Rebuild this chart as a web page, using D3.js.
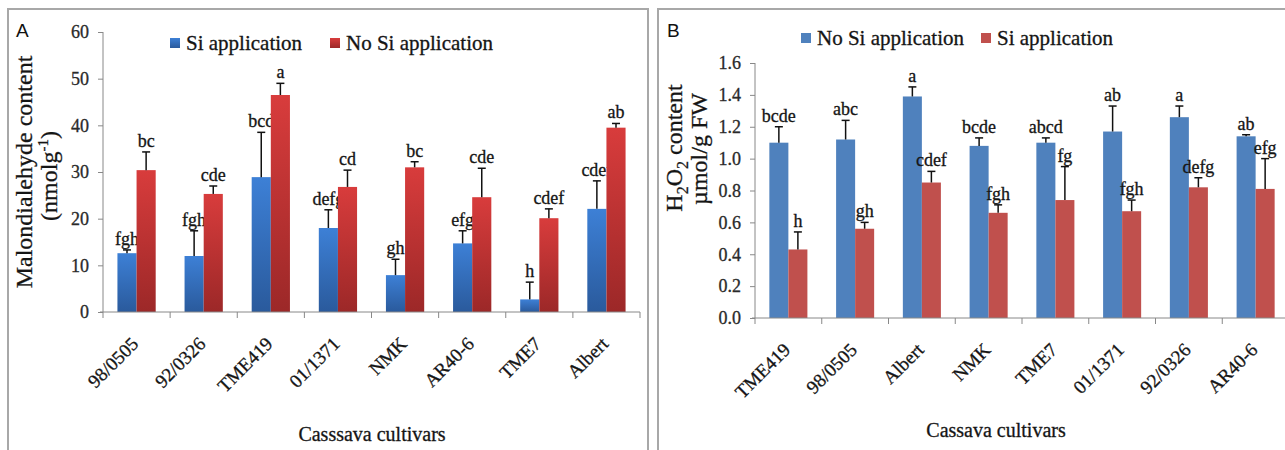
<!DOCTYPE html>
<html>
<head>
<meta charset="utf-8">
<script src="https://cdn.jsdelivr.net/npm/d3@7"></script>
<style>
  body { margin: 0; background: #fff; }
</style>
</head>
<body>
<svg width="1285" height="450"></svg>
<script>
// panel A - malondialdehyde
var cultivarsA = ["98/0505", "92/0326", "TME419", "01/1371", "NMK", "AR40-6", "TME7", "Albert"];
var siA = [12.6, 12.0, 28.9, 18.0, 7.9, 14.7, 2.7, 22.1];
var siAErr = [0.7, 5.4, 9.6, 3.9, 3.4, 2.7, 3.7, 6.0];
var siALetters = ["fgh", "fgh", "bcd", "defg", "gh", "efg", "h", "cdef"];
var noSiA = [30.4, 25.3, 46.5, 26.8, 31.0, 24.6, 20.1, 39.5];
var noSiAErr = [3.9, 1.7, 2.5, 3.6, 1.2, 6.2, 2.0, 0.9];
var noSiALetters = ["bc", "cde", "a", "cd", "bc", "cde", "cdef", "ab"];
var ticksA = [0, 10, 20, 30, 40, 50, 60];

// panel B - H2O2
var cultivarsB = ["TME419", "98/0505", "Albert", "NMK", "TME7", "01/1371", "92/0326", "AR40-6"];
var noSiB = [1.10, 1.12, 1.39, 1.08, 1.10, 1.17, 1.26, 1.14];
var noSiBErr = [0.10, 0.12, 0.06, 0.05, 0.03, 0.16, 0.07, 0.01];
var noSiBLetters = ["bcde", "abc", "a", "bcde", "abcd", "ab", "a", "ab"];
var siB = [0.43, 0.56, 0.85, 0.66, 0.74, 0.67, 0.82, 0.81];
var siBErr = [0.11, 0.04, 0.07, 0.05, 0.21, 0.07, 0.06, 0.19];
var siBLetters = ["h", "gh", "cdef", "fgh", "fg", "fgh", "defg", "efg"];
var ticksB = [0, 0.2, 0.4, 0.6, 0.8, 1, 1.2, 1.4, 1.6];

var SERIF = "'Liberation Serif', 'DejaVu Serif', serif";
var svg = d3.select("svg");

// gradients for panel A bars
var defs = svg.append("defs");
function grad(id, top, bottom) {
    var g = defs.append("linearGradient").attr("id", id)
        .attr("x1", 0).attr("y1", 0).attr("x2", 0).attr("y2", 1);
    g.append("stop").attr("offset", "0%").attr("stop-color", top);
    g.append("stop").attr("offset", "100%").attr("stop-color", bottom);
}
grad("gBlue", "#3d80d6", "#2a5a9c");
grad("gRed", "#d83c3c", "#9c2828");

// frames
svg.append("rect").attr("x", 8).attr("y", 9).attr("width", 640).attr("height", 470)
    .attr("fill", "none").attr("stroke", "#a8a8a8").attr("stroke-width", 2);
svg.append("rect").attr("x", 658).attr("y", 9).attr("width", 700).attr("height", 470)
    .attr("fill", "none").attr("stroke", "#a8a8a8").attr("stroke-width", 2);

// serif text, a touch heavier like the scanned figure
function txt(sel, size) {
    return sel.append("text").style("font-family", SERIF)
        .attr("font-size", size).attr("fill", "#151515")
        .attr("stroke", "#151515").attr("stroke-width", 0.3);
}

function drawPanel(p) {
    var g = svg.append("g");

    var x0 = d3.scaleBand().domain(p.cats).range([p.left, p.right])
        .paddingInner(0.43).paddingOuter(0.215);
    var x1 = d3.scaleBand().domain([0, 1]).range([0, x0.bandwidth()]);
    var step = x0.step();
    var y = d3.scaleLinear().domain([0, p.max]).range([p.bottom, p.top]);

    // y axis
    var ya = g.append("g")
        .attr("transform", "translate(" + p.left + ",0)")
        .call(d3.axisLeft(y).tickValues(p.ticks).tickSize(5).tickPadding(9));
    ya.select(".domain").attr("stroke", "#888").attr("d", "M0," + y(p.max) + "V" + p.bottom);
    ya.selectAll(".tick line").attr("stroke", "#888");
    ya.selectAll(".tick text").style("font-family", SERIF).attr("font-size", 18)
        .attr("fill", "#2a2a2a").attr("stroke", "#2a2a2a").attr("stroke-width", 0.3);

    // bars
    p.series.forEach(function(s, si) {
        var grp = g.append("g");
        p.cats.forEach(function(c, i) {
            var bx = x0(c) + x1(si);
            var v = s.values[i], e = v + s.err[i];
            grp.append("rect")
                .attr("x", bx).attr("y", y(v))
                .attr("width", x1.bandwidth()).attr("height", p.bottom - y(v))
                .attr("fill", s.fill);
            var cx = bx + x1.bandwidth() / 2;
            grp.append("line").attr("x1", cx).attr("x2", cx)
                .attr("y1", y(v)).attr("y2", y(e))
                .attr("stroke", "#111").attr("stroke-width", 1.5);
            grp.append("line").attr("x1", cx - 4).attr("x2", cx + 4)
                .attr("y1", y(e)).attr("y2", y(e))
                .attr("stroke", "#111").attr("stroke-width", 1.5);
            txt(grp, 18).attr("x", cx).attr("y", y(e) - 5)
                .attr("text-anchor", "middle")
                .text(s.letters[i]);
        });
    });

    // x axis
    g.append("line").attr("x1", p.left - 3).attr("x2", p.right)
        .attr("y1", p.bottom).attr("y2", p.bottom).attr("stroke", "#888");
    d3.range(p.cats.length + 1).forEach(function(i) {
        var tx = p.left + i * step;
        g.append("line").attr("x1", tx).attr("x2", tx)
            .attr("y1", p.bottom).attr("y2", p.bottom + 6).attr("stroke", "#888");
    });
    p.cats.forEach(function(c) {
        var cx = x0(c) + x0.bandwidth() / 2 + 3;
        txt(g, 19)
            .attr("transform", "translate(" + cx + "," + (p.bottom + 33) + ") rotate(-45)")
            .attr("text-anchor", "end")
            .text(c);
    });

    // x title
    txt(g, 20).attr("x", p.xTitleX).attr("y", p.xTitleY)
        .attr("text-anchor", "middle")
        .text(p.xTitle);

    // legend
    p.series.forEach(function(s, si) {
        var lx = p.legendX[si];
        g.append("rect").attr("x", lx).attr("y", p.legendY - 12)
            .attr("width", 10).attr("height", 10).attr("fill", s.fill);
        txt(g, 21).attr("x", lx + 16).attr("y", p.legendY).text(s.name);
    });

    // panel letter
    g.append("text").attr("x", p.letterX).attr("y", 37)
        .style("font-family", "'Liberation Sans', Arial, sans-serif")
        .attr("font-size", 19).attr("fill", "#111")
        .text(p.letter);

    return g;
}

var gA = drawPanel({
    cats: cultivarsA, left: 103, right: 640, top: 32, bottom: 312, max: 60, ticks: ticksA,
    series: [
        {name: "Si application", values: siA, err: siAErr, letters: siALetters, fill: "url(#gBlue)"},
        {name: "No Si application", values: noSiA, err: noSiAErr, letters: noSiALetters, fill: "url(#gRed)"}
    ],
    legendX: [170, 330], legendY: 50,
    xTitle: "Casssava cultivars", xTitleX: 372, xTitleY: 441,
    letter: "A", letterX: 16
});

var gB = drawPanel({
    cats: cultivarsB, left: 755, right: 1289, top: 63, bottom: 318, max: 1.6, ticks: ticksB,
    series: [
        {name: "No Si application", values: noSiB, err: noSiBErr, letters: noSiBLetters, fill: "#4f81bd"},
        {name: "Si application", values: siB, err: siBErr, letters: siBLetters, fill: "#c0504d"}
    ],
    legendX: [801, 981], legendY: 45,
    xTitle: "Cassava cultivars", xTitleX: 996, xTitleY: 437,
    letter: "B", letterX: 667
});

// y titles
txt(gA, 24).attr("transform", "translate(32,172) rotate(-90)")
    .attr("text-anchor", "middle")
    .text("Malondialehyde content");
var tA2 = txt(gA, 24).attr("transform", "translate(57,176) rotate(-90)")
    .attr("text-anchor", "middle");
tA2.append("tspan").text("(nmolg");
tA2.append("tspan").attr("dy", -9).attr("font-size", 15).text("-1");
tA2.append("tspan").attr("dy", 9).text(")");

var tB1 = txt(gB, 24).attr("transform", "translate(682,148) rotate(-90)")
    .attr("text-anchor", "middle");
tB1.append("tspan").text("H");
tB1.append("tspan").attr("dy", 6).attr("font-size", 16).text("2");
tB1.append("tspan").attr("dy", -6).text("O");
tB1.append("tspan").attr("dy", 6).attr("font-size", 16).text("2");
tB1.append("tspan").attr("dy", -6).text(" content");
txt(gB, 24).attr("transform", "translate(707,149) rotate(-90)")
    .attr("text-anchor", "middle")
    .text("\u00b5mol/g FW");
</script>
</body>
</html>
